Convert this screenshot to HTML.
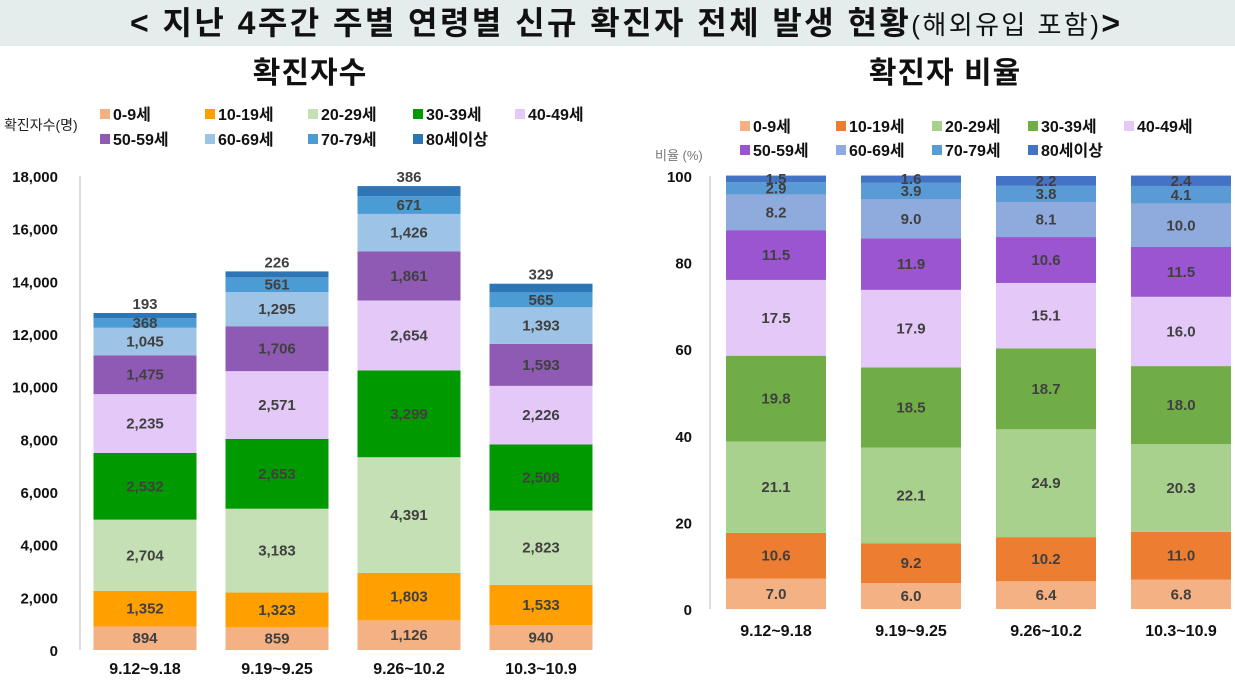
<!DOCTYPE html>
<html><head><meta charset="utf-8"><style>
body{margin:0;width:1235px;height:683px;background:#fff;overflow:hidden;font-family:"Liberation Sans","Noto Sans CJK KR",sans-serif}
</style></head><body>
<svg id="s" width="1235" height="683" xmlns="http://www.w3.org/2000/svg" font-family="Liberation Sans, Noto Sans CJK KR, sans-serif">
<rect x="0" y="0" width="1235" height="46" fill="#e5ecec"/>
<text x="130" y="34" textLength="990" lengthAdjust="spacing" font-size="32" font-weight="bold" fill="#111">&lt; 지난 4주간 주별 연령별 신규 확진자 전체 발생 현황<tspan font-weight="normal" font-size="26">(해외유입 포함)</tspan>&gt;</text>
<text x="310" y="83" text-anchor="middle" font-size="30" letter-spacing="1" font-weight="bold" fill="#111">확진자수</text>
<text x="945" y="83" text-anchor="middle" font-size="30" letter-spacing="1" font-weight="bold" fill="#111">확진자 비율</text>
<text x="4" y="130" font-size="14" fill="#222">확진자수(명)</text>
<text x="655" y="160" font-size="13" fill="#777">비율 (%)</text>
<g id="L"></g><g id="R"></g>
</svg>
<script>
const categories=["9.12~9.18","9.19~9.25","9.26~10.2","10.3~10.9"];
const groups=["0-9세","10-19세","20-29세","30-39세","40-49세","50-59세","60-69세","70-79세","80세이상"];
const countSeries=[[894,859,1126,940],[1352,1323,1803,1533],[2704,3183,4391,2823],[2532,2653,3299,2508],[2235,2571,2654,2226],[1475,1706,1861,1593],[1045,1295,1426,1393],[368,561,671,565],[193,226,386,329]];
const ratioSeries=[[7.0,6.0,6.4,6.8],[10.6,9.2,10.2,11.0],[21.1,22.1,24.9,20.3],[19.8,18.5,18.7,18.0],[17.5,17.9,15.1,16.0],[11.5,11.9,10.6,11.5],[8.2,9.0,8.1,10.0],[2.9,3.9,3.8,4.1],[1.5,1.6,2.2,2.4]];
const leftTicks=[0,2000,4000,6000,8000,10000,12000,14000,16000,18000];
const rightTicks=[0,20,40,60,80,100];
const leftColors=["#f4b183","#ff9f00","#c5e0b4","#009a00","#e3c8f8","#8f5ab4","#9dc3e6","#4b9bd5","#2e75b6"];
const rightColors=["#f4b183","#ed7d31","#a9d18e","#70ad47","#e3c8f8","#9b55d0","#8faadc","#5b9bd5","#4472c4"];
const NS="http://www.w3.org/2000/svg";
function mk(p,t,a,txt){const e=document.createElementNS(NS,t);for(const k in a)e.setAttribute(k,a[k]);if(txt!==undefined)e.textContent=txt;p.appendChild(e);return e;}
function chart(g,series,colors,o){
 const y=v=>o.y0-(v/o.max)*(o.y0-o.y1);
 const ax=mk(g,'line',{x1:o.axX,x2:o.axX,y1:o.y1,y2:o.y0,stroke:'#bbb'});
 
 
 o.ticks.forEach(t=>{const e=mk(g,'text',{x:o.tickX,y:y(t)+6,'text-anchor':'end','font-size':15,'font-weight':'bold',fill:'#111'},o.fmt(t));
  
  });
 categories.forEach((c,i)=>{const cx=o.cx0+i*o.step;let acc=0;
  series.forEach((s,j)=>{const v=s[i];const top=y(acc+v),bot=y(acc);
   const r=mk(g,'rect',{x:cx-o.bw/2,y:top,width:o.bw,height:bot-top,fill:colors[j]});
   
   
   const above=o.topAbove&&j===series.length-1;
   const ty=above?top-4:(top+bot)/2+5;
   const t=mk(g,'text',{x:cx,y:ty,'text-anchor':'middle','font-size':15,'font-weight':'bold',fill:'#404040'},o.fmtV(v));
   
   
   acc+=v;});
  const cl=mk(g,'text',{x:cx,y:o.catY,'text-anchor':'middle','font-size':16,'font-weight':'bold',fill:'#111'},c);
  
  });
 groups.forEach((n,j)=>{const lx=o.lx[j%5],ly=o.ly[Math.floor(j/5)];
  const sq=mk(g,'rect',{x:lx,y:ly-11,width:10,height:10,fill:colors[j]});
  
  
  const t=mk(g,'text',{x:lx+13,y:ly,'font-size':16,'font-weight':'bold',fill:'#111'},n);
  
  });
}
chart(document.getElementById('L'),countSeries,leftColors,{y0:650,y1:176,max:18000,axX:80,tickX:58,ticks:leftTicks,fmt:t=>t.toLocaleString('en-US'),fmtV:v=>v.toLocaleString('en-US'),cx0:145,step:132,bw:103,catY:674,topAbove:true,lx:[100,205,308,413,515],ly:[120,145]});
chart(document.getElementById('R'),ratioSeries,rightColors,{y0:609,y1:176,max:100,axX:710,tickX:692,ticks:rightTicks,fmt:t=>String(t),fmtV:v=>v.toFixed(1),cx0:776,step:135,bw:100,catY:636,topAbove:false,lx:[740,836,932,1028,1124],ly:[132,156]});
</script>
</body></html>
